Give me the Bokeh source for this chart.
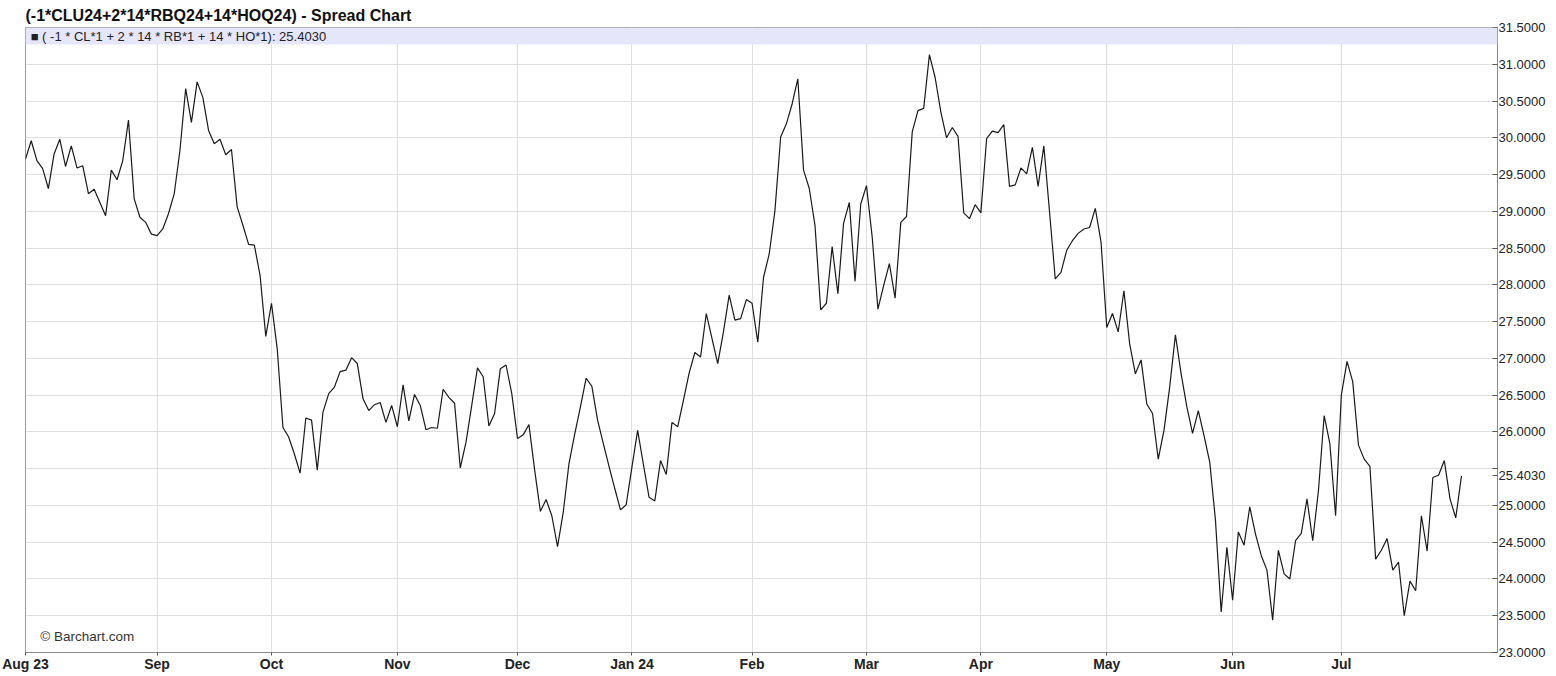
from bokeh.plotting import figure
from bokeh.models import Range1d, FixedTicker, PrintfTickFormatter, BoxAnnotation, Label
from bokeh.embed import file_html
from bokeh.resources import INLINE

# Daily spread values, one per trading day from 1 Aug 2023 to end of Jul 2024
spread = [
    29.71, 29.96, 29.69, 29.58, 29.31, 29.78, 29.98, 29.61, 29.89, 29.59,
    29.62, 29.24, 29.30, 29.12, 28.94, 29.56, 29.43, 29.69, 30.24, 29.17,
    28.92, 28.85, 28.69, 28.67, 28.76, 28.97, 29.24, 29.83, 30.67, 30.21,
    30.76, 30.55, 30.10, 29.92, 29.98, 29.77, 29.84, 29.06, 28.81, 28.55,
    28.54, 28.13, 27.30, 27.75, 27.13, 26.06, 25.93, 25.70, 25.44, 26.19,
    26.16, 25.48, 26.27, 26.52, 26.61, 26.82, 26.84, 27.01, 26.93, 26.45,
    26.29, 26.37, 26.40, 26.13, 26.36, 26.07, 26.64, 26.15, 26.51, 26.36,
    26.03, 26.06, 26.05, 26.58, 26.47, 26.39, 25.51, 25.86, 26.36, 26.87,
    26.75, 26.08, 26.25, 26.86, 26.91, 26.52, 25.91, 25.96, 26.10, 25.48,
    24.92, 25.08, 24.86, 24.44, 24.91, 25.57, 25.97, 26.34, 26.73, 26.62,
    26.16, 25.84, 25.53, 25.23, 24.94, 25.01, 25.52, 26.02, 25.56, 25.11,
    25.06, 25.61, 25.42, 26.13, 26.07, 26.43, 26.80, 27.08, 27.02, 27.61,
    27.27, 26.93, 27.36, 27.86, 27.52, 27.54, 27.80, 27.75, 27.22, 28.10,
    28.42, 29.01, 30.01, 30.19, 30.46, 30.80, 29.56, 29.31, 28.81, 27.66,
    27.75, 28.52, 27.88, 28.84, 29.12, 28.05, 29.10, 29.35, 28.65, 27.67,
    27.99, 28.29, 27.82, 28.85, 28.93, 30.08, 30.37, 30.40, 31.13, 30.82,
    30.35, 30.00, 30.14, 30.02, 28.98, 28.90, 29.09, 28.98, 29.99, 30.09,
    30.07, 30.18, 29.34, 29.36, 29.59, 29.51, 29.87, 29.34, 29.89, 28.99,
    28.08, 28.17, 28.47, 28.60, 28.70, 28.76, 28.78, 29.04, 28.58, 27.42,
    27.61, 27.36, 27.92, 27.20, 26.79, 26.98, 26.38, 26.25, 25.63, 26.02,
    26.61, 27.32, 26.79, 26.34, 25.98, 26.29, 25.95, 25.59, 24.80, 23.55,
    24.43, 23.71, 24.64, 24.46, 24.98, 24.61, 24.32, 24.12, 23.44, 24.39,
    24.07, 24.00, 24.52, 24.62, 25.09, 24.52, 25.20, 26.22, 25.84, 24.86,
    26.50, 26.96, 26.68, 25.82, 25.63, 25.53, 24.27, 24.39, 24.55, 24.12,
    24.23, 23.50, 23.97, 23.84, 24.86, 24.38, 25.38, 25.41, 25.61, 25.09,
    24.83, 25.403,
]
day_index = list(range(len(spread)))

# month starts (trading-day index) and their labels
month_ticks = [0, 23, 43, 65, 86, 106, 127, 147, 167, 189, 211, 230]
month_labels = ["Aug 23", "Sep", "Oct", "Nov", "Dec", "Jan 24", "Feb",
                "Mar", "Apr", "May", "Jun", "Jul"]

y_ticks = [23.0, 23.5, 24.0, 24.5, 25.0, 25.5, 26.0, 26.5, 27.0,
           27.5, 28.0, 28.5, 29.0, 29.5, 30.0, 30.5, 31.0, 31.5]

last_value = 25.403
last_value_text = "25.4030"
title_text = "(-1*CLU24+2*14*RBQ24+14*HOQ24) - Spread Chart"
legend_text = "\u25a0 ( -1 * CL*1 + 2 * 14 * RB*1 + 14 * HO*1): 25.4030"

FONT = "Liberation Sans"

p = figure(width=1556, height=676,
           x_range=Range1d(0, 257.3), y_range=Range1d(23.0, 31.5),
           output_backend="svg", toolbar_location=None,
           y_axis_location="right",
           min_border_left=25, min_border_right=59,
           min_border_top=0, min_border_bottom=24)

p.title.text = title_text
p.title.text_font = FONT
p.title.text_font_size = "16px"
p.title.text_font_style = "bold"
p.title.text_color = "#111111"
p.title.standoff = 8
p.title.offset = 0

p.background_fill_color = "white"
p.border_fill_color = "white"
p.outline_line_color = "#9a9a9a"
p.outline_line_width = 1

p.line(day_index, spread, line_color="#1a1a1a", line_width=1.2)

# x axis
xa = p.xaxis[0]
xa.ticker = FixedTicker(ticks=month_ticks)
xa.major_label_overrides = {t: l for t, l in zip(month_ticks, month_labels)}
xa.major_label_text_font = FONT
xa.major_label_text_font_size = "14px"
xa.major_label_text_font_style = "bold"
xa.major_label_text_color = "#222222"
xa.major_tick_in = 0
xa.major_tick_out = 3
xa.minor_tick_line_color = None
xa.axis_line_color = "#8a8a8a"
xa.major_tick_line_color = "#555555"
xa.major_label_standoff = 0

# y axis: regular ticks plus the last value marker
ya = p.yaxis[0]
ya.ticker = FixedTicker(ticks=y_ticks + [last_value])
ya.formatter = PrintfTickFormatter(format="%.4f")
ya.major_label_overrides = {25.5: "", last_value: last_value_text}
ya.major_label_text_font = FONT
ya.major_label_text_font_size = "13px"
ya.major_label_text_color = "#222222"
ya.major_tick_in = 5
ya.major_tick_out = 0
ya.minor_tick_line_color = None
ya.axis_line_color = "#8a8a8a"
ya.major_tick_line_color = "#555555"
ya.major_label_standoff = 1

p.xgrid.grid_line_color = "#dedede"
p.ygrid.ticker = FixedTicker(ticks=y_ticks)
p.ygrid.grid_line_color = "#dedede"

# legend band
band = BoxAnnotation(bottom=31.5 - 17 / 73.5, top=31.5,
                     fill_color="#e6e6fa", fill_alpha=1.0, line_alpha=0)
p.add_layout(band)

p.add_layout(Label(x=0.9, y=31.5 - 8.5 / 73.5, text=legend_text,
                   text_font=FONT, text_font_size="13px",
                   text_color="#222222", text_baseline="middle"))

p.add_layout(Label(x=2.6, y=23.22, text="\u00a9 Barchart.com",
                   text_font=FONT, text_font_size="13.5px",
                   text_color="#333333", text_baseline="middle"))

open("out.html", "w").write(file_html(p, INLINE))
